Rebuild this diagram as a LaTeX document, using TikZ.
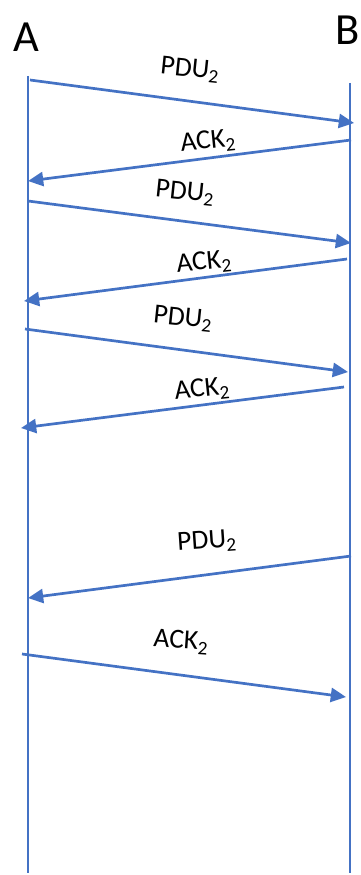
\documentclass[tikz,border=0pt]{standalone}
\usepackage{fontspec}
\setmainfont{Carlito}
\usepackage{tikz}
\usetikzlibrary{arrows.meta}
\definecolor{lineblue}{RGB}{68,114,196}

\begin{document}
\begin{tikzpicture}[x=0.03cm,y=-0.03cm,
  life/.style={lineblue,line width=2.3pt},
  msg/.style={lineblue,line width=2.3pt,-{Triangle[length=13pt,width=12pt]}},
  lbl/.style={font=\fontsize{23.5}{28}\selectfont,inner sep=0pt}]
\useasboundingbox (0,0) rectangle (360,875);
% hosts
\node (A) at (26,37) {\fontsize{38}{44}\selectfont A};
\node (B) at (348,30) {\fontsize{38}{44}\selectfont B};
\coordinate (at) at (28,76);
\coordinate (ab) at (28,873);
\coordinate (bt) at (350,83);
\coordinate (bb) at (350,873);
\draw[life] (at) -- (ab);
\draw[life] (bt) -- (bb);
% end points of the messages
\coordinate (m1s) at (30,80);   \coordinate (m1e) at (354,123);
\coordinate (m2s) at (351,140); \coordinate (m2e) at (28,181);
\coordinate (m3s) at (28,201);  \coordinate (m3e) at (351,243);
\coordinate (m4s) at (347,259); \coordinate (m4e) at (24,301);
\coordinate (m5s) at (25,329);  \coordinate (m5e) at (348,372);
\coordinate (m6s) at (344,387); \coordinate (m6e) at (21,428);
\coordinate (m7s) at (351,556); \coordinate (m7e) at (28,598);
\coordinate (m8s) at (22,654);  \coordinate (m8e) at (346,697);
\draw[msg] (m1s) -- (m1e);
\draw[msg] (m2s) -- (m2e);
\draw[msg] (m3s) -- (m3e);
\draw[msg] (m4s) -- (m4e);
\draw[msg] (m5s) -- (m5e);
\draw[msg] (m6s) -- (m6e);
\draw[msg] (m7s) -- (m7e);
\draw[msg] (m8s) -- (m8e);
% labels
\node[lbl,rotate=-6] (l1) at (190,70) {PDU\textsubscript{2}};
\node[lbl,rotate=6] (l2) at (208,142) {ACK\textsubscript{2}};
\node[lbl,rotate=-6] (l3) at (185,193) {PDU\textsubscript{2}};
\node[lbl,rotate=6] (l4) at (204,263) {ACK\textsubscript{2}};
\node[lbl,rotate=-6] (l5) at (183,319) {PDU\textsubscript{2}};
\node[lbl,rotate=6] (l6) at (202,390) {ACK\textsubscript{2}};
\node[lbl,rotate=4] (l7) at (207,542) {PDU\textsubscript{2}};
\node[lbl,rotate=-4] (l8) at (181,642) {ACK\textsubscript{2}};
\end{tikzpicture}
\end{document}
